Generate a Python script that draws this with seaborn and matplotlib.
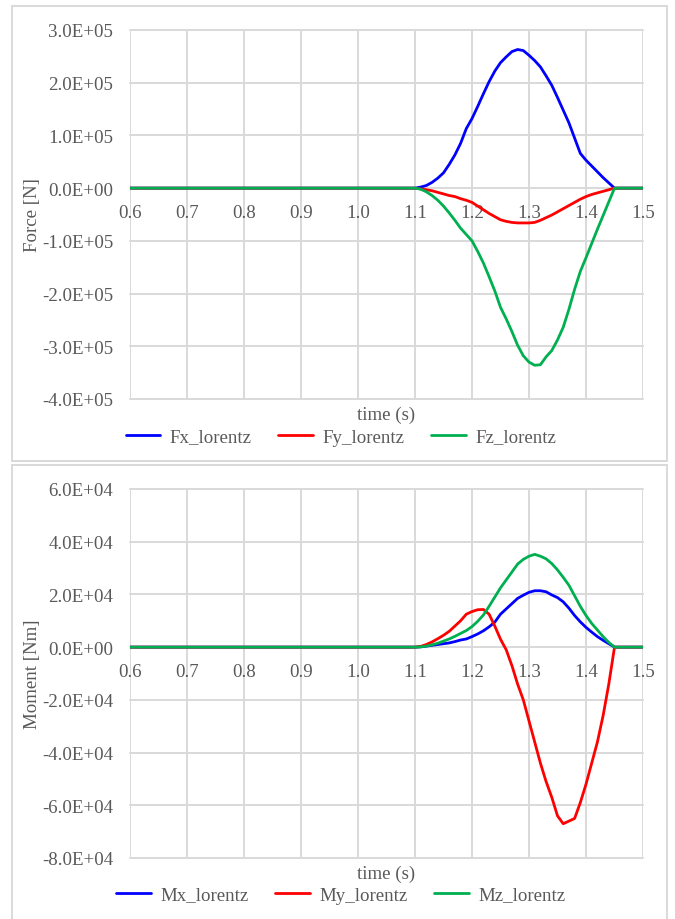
import numpy as np
import pandas as pd
import matplotlib
matplotlib.use("Agg")
import matplotlib.pyplot as plt
from matplotlib.patches import Rectangle
from matplotlib.ticker import FuncFormatter, MultipleLocator
import seaborn as sns

# ---------------- data ----------------
time = [0.60, 1.10, 1.11, 1.12, 1.13, 1.14, 1.15, 1.16, 1.17, 1.18, 1.19,
        1.20, 1.21, 1.22, 1.23, 1.24, 1.25, 1.26, 1.27, 1.28, 1.29,
        1.30, 1.31, 1.32, 1.33, 1.34, 1.35, 1.36, 1.37, 1.38, 1.39,
        1.40, 1.41, 1.42, 1.43, 1.44, 1.45, 1.50]

fx_lorentz = [0, 0, 2e3, 5e3, 1.1e4, 1.9e4, 2.9e4, 4.5e4, 6.3e4, 8.5e4, 1.13e5,
              1.32e5, 1.55e5, 1.79e5, 2.02e5, 2.22e5, 2.38e5, 2.49e5, 2.59e5, 2.63e5, 2.61e5,
              2.52e5, 2.42e5, 2.30e5, 2.13e5, 1.95e5, 1.72e5, 1.48e5, 1.24e5, 9.5e4, 6.6e4,
              5.3e4, 4.2e4, 3.1e4, 2.0e4, 1.0e4, 0, 0]
fy_lorentz = [0, 0, -1.5e3, -3e3, -5e3, -8e3, -1.1e4, -1.4e4, -1.6e4, -2.0e4, -2.3e4,
              -2.7e4, -3.4e4, -4.1e4, -4.8e4, -5.4e4, -6.0e4, -6.3e4, -6.5e4, -6.6e4, -6.6e4,
              -6.6e4, -6.5e4, -6.1e4, -5.6e4, -5.1e4, -4.5e4, -3.9e4, -3.3e4, -2.7e4, -2.1e4,
              -1.6e4, -1.2e4, -9e3, -6e3, -3e3, 0, 0]
fz_lorentz = [0, 0, -2e3, -7e3, -1.4e4, -2.3e4, -3.4e4, -4.7e4, -6.1e4, -7.6e4, -8.8e4,
              -1.0e5, -1.2e5, -1.42e5, -1.68e5, -1.95e5, -2.26e5, -2.48e5, -2.72e5, -2.98e5, -3.18e5,
              -3.30e5, -3.36e5, -3.35e5, -3.20e5, -3.08e5, -2.88e5, -2.64e5, -2.30e5, -1.92e5, -1.58e5,
              -1.32e5, -1.05e5, -7.8e4, -5.2e4, -2.6e4, 0, 0]

mx_lorentz = [0, 0, 100, 400, 700, 1.0e3, 1.3e3, 1.6e3, 2.1e3, 2.7e3, 3.1e3,
              4.0e3, 5.0e3, 6.2e3, 7.7e3, 9.5e3, 1.25e4, 1.45e4, 1.65e4, 1.85e4, 1.97e4,
              2.08e4, 2.14e4, 2.14e4, 2.10e4, 1.98e4, 1.88e4, 1.72e4, 1.48e4, 1.20e4, 9.6e3,
              7.5e3, 5.7e3, 4.0e3, 2.6e3, 1.3e3, 0, 0]
my_lorentz = [0, 0, 300, 1.0e3, 2.0e3, 3.2e3, 4.5e3, 6.0e3, 8.0e3, 1.0e4, 1.25e4,
              1.35e4, 1.42e4, 1.43e4, 1.25e4, 8.0e3, 3.0e3, -1.0e3, -7.0e3, -1.4e4, -2.0e4,
              -2.8e4, -3.6e4, -4.4e4, -5.1e4, -5.7e4, -6.4e4, -6.7e4, -6.6e4, -6.5e4, -5.9e4,
              -5.2e4, -4.4e4, -3.6e4, -2.6e4, -1.4e4, 0, 0]
mz_lorentz = [0, 0, 100, 400, 900, 1.5e3, 2.3e3, 3.1e3, 4.1e3, 5.2e3, 6.3e3,
              7.8e3, 9.8e3, 1.22e4, 1.55e4, 1.90e4, 2.25e4, 2.55e4, 2.85e4, 3.15e4, 3.33e4,
              3.45e4, 3.52e4, 3.45e4, 3.35e4, 3.17e4, 2.93e4, 2.65e4, 2.35e4, 1.95e4, 1.55e4,
              1.20e4, 9.0e3, 6.5e3, 4.0e3, 1.8e3, 0, 0]

force_names = ["Fx_lorentz", "Fy_lorentz", "Fz_lorentz"]
moment_names = ["Mx_lorentz", "My_lorentz", "Mz_lorentz"]
x_ticks = [0.6, 0.7, 0.8, 0.9, 1.0, 1.1, 1.2, 1.3, 1.4, 1.5]
force_ylim = (-4.0e5, 3.0e5)
moment_ylim = (-8.0e4, 6.0e4)

colors = ["#0000FF", "#FF0000", "#00B050"]

# ---------------- style ----------------
sns.set_theme(style="white")
plt.rcParams["font.family"] = ["Liberation Serif", "DejaVu Serif"]
TXT = "#595959"
GRID = "#D9D9D9"
FS = 13.6

W, H = 675, 920
fig = plt.figure(figsize=(W / 100, H / 100), dpi=100)


def px_axes(left, top, right, bottom):
    return fig.add_axes([left / W, 1 - bottom / H, (right - left) / W, (bottom - top) / H])


def make_df(names, series):
    d = pd.DataFrame({"time": time})
    for n, s in zip(names, series):
        d[n] = s
    return d.melt(id_vars="time", var_name="series", value_name="value")


def style_axes(ax, ylim, step, ylabel):
    ax.set_xlim(0.6, 1.5)
    ax.set_ylim(*ylim)
    ax.set_xticks(x_ticks)
    ax.xaxis.set_major_formatter(FuncFormatter(lambda v, p: f"{v:.1f}"))
    ax.yaxis.set_major_locator(MultipleLocator(step))
    ax.yaxis.set_major_formatter(FuncFormatter(lambda v, p: f"{v:.1E}"))
    ax.grid(True, color=GRID, linewidth=1.4, zorder=0)
    ax.set_axisbelow(True)
    for ln in ax.get_xgridlines() + ax.get_ygridlines():
        ln.set_clip_on(False)
    for s in ["left", "right", "top"]:
        ax.spines[s].set_visible(False)
    ax.spines["bottom"].set_position(("data", 0))
    ax.spines["bottom"].set_color("none")
    ax.tick_params(axis="both", length=0, labelsize=FS, labelcolor=TXT)
    ax.tick_params(axis="x", pad=11.5)
    ax.tick_params(axis="y", pad=12)
    ax.set_xlabel("")
    ax.set_ylabel(ylabel, fontsize=FS, color=TXT, va="center")
    ax.yaxis.set_label_coords(-0.19, 0.5)
    ax.text(0.5, -15 / 369, "time (s)", transform=ax.transAxes, ha="center",
            va="center", fontsize=FS, color=TXT)
    for ln in ax.lines:
        ln.set_zorder(3)
    leg = ax.get_legend()
    if leg is not None:
        leg.remove()


def add_box(left, top, right, bottom):
    fig.patches.append(Rectangle((left / W, 1 - bottom / H), (right - left) / W,
                                 (bottom - top) / H, transform=fig.transFigure,
                                 fill=False, edgecolor=GRID, linewidth=1.4))


add_box(12, 7, 667, 462)
add_box(12, 466, 667, 930)

# ---------------- top: forces ----------------
ax1 = px_axes(130, 31, 643, 400)
df_f = make_df(force_names, [fx_lorentz, fy_lorentz, fz_lorentz])
sns.lineplot(data=df_f, x="time", y="value", hue="series", hue_order=force_names,
             palette=colors, linewidth=2.0, ax=ax1, legend=True)
h1, l1 = ax1.get_legend_handles_labels()
style_axes(ax1, force_ylim, 1.0e5, "Force [N]")
fig.legend(h1, l1, loc="center", bbox_to_anchor=(341 / W, 1 - 438 / H), ncol=3,
           frameon=False, fontsize=FS, labelcolor=TXT, handlelength=1.85,
           handletextpad=0.5, columnspacing=1.4)

# ---------------- bottom: moments ----------------
ax2 = px_axes(130, 490, 643, 859)
df_m = make_df(moment_names, [mx_lorentz, my_lorentz, mz_lorentz])
sns.lineplot(data=df_m, x="time", y="value", hue="series", hue_order=moment_names,
             palette=colors, linewidth=2.0, ax=ax2, legend=True)
h2, l2 = ax2.get_legend_handles_labels()
style_axes(ax2, moment_ylim, 2.0e4, "Moment [Nm]")
fig.legend(h2, l2, loc="center", bbox_to_anchor=(341 / W, 1 - 896 / H), ncol=3,
           frameon=False, fontsize=FS, labelcolor=TXT, handlelength=1.85,
           handletextpad=0.5, columnspacing=1.4)

fig.savefig("out.png", dpi=100, facecolor="white")
